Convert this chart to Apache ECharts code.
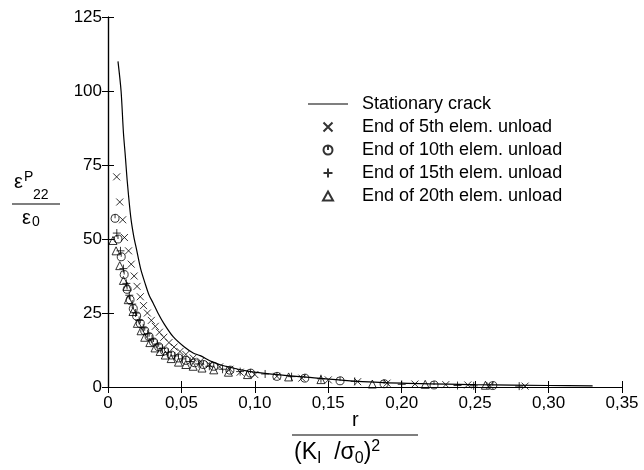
<!DOCTYPE html>
<html><head><meta charset="utf-8">
<script src="https://cdn.jsdelivr.net/npm/echarts@6/dist/echarts.min.js"></script>
<style>html,body{margin:0;padding:0;background:#fff}#c{width:644px;height:470px}</style>
</head><body><div id="c"></div>
<script>
// ---- data ----
var xTickLabels = ['0','0,05','0,10','0,15','0,20','0,25','0,30','0,35'];
var yTickLabels = ['0','25','50','75','100','125'];
var seriesNames = ['Stationary crack','End of 5th elem. unload','End of 10th elem. unload','End of 15th elem. unload','End of 20th elem. unload'];
var stationary = [[0.0068,110],[0.0089,100],[0.0105,86],[0.0118,78],[0.0132,69],[0.0155,57.4],[0.0175,51],[0.0195,46.3],[0.0222,40],[0.0252,35.1],[0.0280,31],[0.0307,28.4],[0.0340,25],[0.0380,21.5],[0.0445,16.9],[0.0520,13.5],[0.0580,11.5],[0.0628,10.6],[0.0710,8.5],[0.0800,7.0],[0.0970,5.2],[0.1150,4.2],[0.1310,3.5],[0.1650,2.1],[0.2000,1.3],[0.2500,0.8],[0.3000,0.5],[0.3300,0.4]];
var elem5 = [[0.0059,71],[0.0080,62.5],[0.0100,56.5],[0.0112,50.5],[0.0140,46],[0.0158,41.5],[0.0178,37.5],[0.0198,34],[0.0220,30.5],[0.0242,27.5],[0.0268,25],[0.0295,22.5],[0.0322,20.5],[0.0350,18.5],[0.0380,16.8],[0.0415,15],[0.0450,13.5],[0.0490,12],[0.0530,11],[0.0580,9.8],[0.0630,8.7],[0.0690,7.6],[0.0760,6.8],[0.0830,6.0],[0.0900,5.0],[0.1000,4.2],[0.1150,3.6],[0.1320,3.0],[0.1500,2.4],[0.1700,1.8],[0.1900,1.3],[0.2090,1.0],[0.2300,0.8],[0.2450,0.7],[0.2600,0.5],[0.2840,0.3]];
var elem10 = [[0.0048,57],[0.0068,50],[0.0090,44],[0.0110,38],[0.0130,33],[0.0150,29.5],[0.0172,26.5],[0.0195,24],[0.0220,21.5],[0.0250,19],[0.0280,17],[0.0310,15.2],[0.0345,13.6],[0.0385,12.2],[0.0430,10.8],[0.0480,9.8],[0.0530,9.0],[0.0590,8.2],[0.0650,7.6],[0.0720,7.0],[0.0830,5.7],[0.0970,4.7],[0.1150,3.6],[0.1340,3.0],[0.1580,2.1],[0.1880,1.1],[0.2220,0.7],[0.2620,0.5]];
var elem15 = [[0.0060,52],[0.0085,46],[0.0105,40],[0.0125,35],[0.0145,31],[0.0165,28],[0.0188,25],[0.0212,22.5],[0.0240,20],[0.0270,18],[0.0300,16.2],[0.0335,14.5],[0.0370,13],[0.0410,11.7],[0.0455,10.5],[0.0505,9.5],[0.0560,8.6],[0.0620,7.8],[0.0690,7.0],[0.0780,6.0],[0.0900,5.2],[0.1070,4.4],[0.1250,3.5],[0.1450,2.8],[0.1680,1.9],[0.2000,0.9],[0.2380,0.5],[0.2490,0.4],[0.2800,0.3]];
var elem20 = [[0.0034,49.5],[0.0055,46],[0.0080,41],[0.0105,36],[0.0130,34],[0.0138,29.5],[0.0170,25.5],[0.0200,21.5],[0.0225,19],[0.0250,16.8],[0.0285,15],[0.0320,13.2],[0.0355,12],[0.0390,10.8],[0.0430,9.6],[0.0480,8.4],[0.0530,7.6],[0.0580,7],[0.0640,6.4],[0.0720,5.8],[0.0820,5],[0.0950,4.2],[0.1230,3.4],[0.1450,2.5],[0.1800,1.0],[0.2160,0.9],[0.2570,0.6]];

var FONT = 'Liberation Sans';
var chart = echarts.init(document.getElementById('c'), null, {renderer:'canvas'});
var axisLine = {show:true, lineStyle:{color:'#000', width:1.2}};
var tickIn = {show:true, inside:true, length:6, lineStyle:{color:'#000', width:1}};
var symStyle = {color:'transparent', borderColor:'#000', borderWidth:1};
var SYM_X = 'path://M0,0L10,10M10,0L0,10';
var SYM_O = 'path://M5,0A5,5 0 1,1 4.99,0ZM5,0L5,5';
var SYM_P = 'path://M5,0L5,10M0,5L10,5';
var SYM_T = 'path://M5,0L10,9L0,9Z';
function xLab(v){ var i = Math.round(v/0.05); return xTickLabels[i] !== undefined ? xTickLabels[i] : ''; }
function yLab(v){ var i = Math.round(v/25); return yTickLabels[i] !== undefined ? yTickLabels[i] : ''; }

chart.setOption({
  animation:false,
  backgroundColor:'#fff',
  grid:{left:108, right:22, top:17, bottom:83},
  legend:{
    orient:'vertical', left:303, top:90, itemWidth:40, itemHeight:9, itemGap:5,
    textStyle:{fontFamily:FONT, fontSize:18, color:'#000', padding:[0,0,0,9]},
    data:[
      {name:seriesNames[0], icon:'path://M0,0L40,0L40,1.2L0,1.2Z', itemStyle:{color:'#000'}},
      seriesNames[1], seriesNames[2], seriesNames[3], seriesNames[4]
    ]
  },
  xAxis:[
    {type:'value', min:0, max:0.35, interval:0.05, position:'bottom',
     axisLine:axisLine, axisTick:tickIn, splitLine:{show:false},
     axisLabel:{formatter:xLab, fontFamily:FONT, fontSize:17, color:'#000', margin:8}},
    {type:'value', min:0, max:0.35, interval:0.05, position:'top',
     axisLine:axisLine, axisTick:tickIn, splitLine:{show:false}, axisLabel:{show:false}}
  ],
  yAxis:[
    {type:'value', min:0, max:125, interval:25, position:'left',
     axisLine:axisLine, axisTick:tickIn, splitLine:{show:false},
     axisLabel:{formatter:yLab, fontFamily:FONT, fontSize:17, color:'#000', margin:6}},
    {type:'value', min:0, max:125, interval:25, position:'right',
     axisLine:axisLine, axisTick:tickIn, splitLine:{show:false}, axisLabel:{show:false}}
  ],
  series:[
    {name:seriesNames[0], type:'line', data:stationary, smooth:0.3, symbol:'none', showSymbol:false,
     lineStyle:{color:'#000', width:1.2}, itemStyle:{color:'#000'}},
    {name:seriesNames[1], type:'scatter', data:elem5, symbol:SYM_X, symbolSize:7, itemStyle:symStyle},
    {name:seriesNames[2], type:'scatter', data:elem10, symbol:SYM_O, symbolSize:8, itemStyle:symStyle},
    {name:seriesNames[3], type:'scatter', data:elem15, symbol:SYM_P, symbolSize:8, itemStyle:symStyle},
    {name:seriesNames[4], type:'scatter', data:elem20, symbol:SYM_T, symbolSize:8, itemStyle:symStyle}
  ],
  graphic:[
    {type:'text', left:14, top:170, style:{text:'{e|ε}{s|P}', rich:{e:{fontFamily:FONT,fontSize:20,fill:'#000'}, s:{fontFamily:FONT,fontSize:14,fill:'#000', verticalAlign:'top', padding:[0,0,10,1]}}}},
    {type:'text', left:33, top:188, style:{text:'22', font:'14px ' + FONT, fill:'#000'}},
    {type:'line', shape:{x1:12, y1:204, x2:60, y2:204}, style:{stroke:'#000', lineWidth:1.2}},
    {type:'text', left:22, top:208, style:{text:'{e|ε}{s|0}', rich:{e:{fontFamily:FONT,fontSize:20,fill:'#000'}, s:{fontFamily:FONT,fontSize:14,fill:'#000', padding:[8,0,0,1]}}}},
    {type:'text', left:352, top:410, style:{text:'r', font:'20px ' + FONT, fill:'#000'}},
    {type:'line', shape:{x1:292, y1:435, x2:418, y2:435}, style:{stroke:'#000', lineWidth:1.2}},
    {type:'text', left:294, top:439, style:{text:'(K{s|I}  /σ{s|0}){p|2}', font:'23px ' + FONT, fill:'#000', rich:{s:{fontFamily:FONT,fontSize:16,fill:'#000',padding:[12,0,0,0]}, p:{fontFamily:FONT,fontSize:16,fill:'#000',padding:[0,0,12,0]}}}}
  ]
});
</script></body></html>
